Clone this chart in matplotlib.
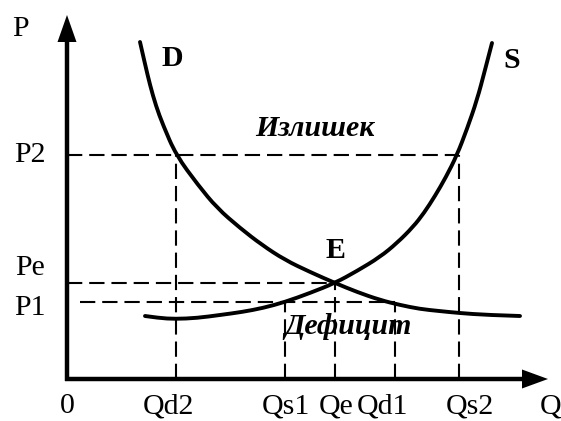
import matplotlib
matplotlib.use("Agg")
import matplotlib.pyplot as plt
from matplotlib.patches import Polygon, PathPatch
from matplotlib.path import Path

plt.rcParams['font.family'] = ['Liberation Serif', 'DejaVu Serif']
plt.rcParams['lines.scale_dashes'] = False

# ---- data (Q, P in chart units, origin at axes corner) ----
q_names = ["Qd2", "Qs1", "Qe", "Qd1", "Qs2"]
q_values = [109, 218, 268, 328, 392]
p_names = ["P2", "Pe", "P1"]
p_values = [224, 96, 77]

demand_q = [73, 78, 83, 89, 96, 109, 131, 150, 173, 195, 218, 243, 268, 290, 313, 333, 353, 372, 392, 420, 453]
demand_p = [337, 315, 294, 273, 254, 224, 194, 171, 151, 134, 119, 107, 96, 87, 79, 74, 70, 68, 66, 64, 63]

supply_q = [78, 92, 108, 130, 153, 175, 196, 218, 243, 268, 290, 313, 330, 346, 357, 368, 379, 390, 400, 410, 418, 425]
supply_p = [63, 61, 60, 61, 64, 67, 71, 77, 86, 96, 108, 122, 136, 152, 166, 183, 202, 224, 250, 279, 309, 336]


def smooth_path(xs, ys):
    """Quadratic-Bezier rendering through the data points (points act as control points)."""
    pts = list(zip(xs, ys))
    verts = [pts[0]]
    codes = [Path.MOVETO]
    for i in range(1, len(pts) - 1):
        mid = ((pts[i][0] + pts[i + 1][0]) / 2, (pts[i][1] + pts[i + 1][1]) / 2)
        if i == len(pts) - 2:
            mid = pts[-1]
        verts += [pts[i], mid]
        codes += [Path.CURVE3, Path.CURVE3]
    return Path(verts, codes)


fig = plt.figure(figsize=(5.61, 4.21), dpi=100)
ax = fig.add_axes([0, 0, 1, 1])
ax.set_xlim(-67, 494)
ax.set_ylim(-42, 379)
ax.axis('off')

dash = dict(color='black', lw=1.5, dashes=(11, 5))
qd2, qs1, qe, qd1, qs2 = q_values
p2, pe, p1 = p_values
# horizontal guides
ax.plot([0, qs2], [p2, p2], **dash)
ax.plot([0, qe], [pe, pe], **dash)
ax.plot([13, qd1], [p1, p1], **dash)
# vertical guides
ax.plot([qd2, qd2], [0, p2], **dash)
ax.plot([qs1, qs1], [0, p1], **dash)
ax.plot([qe, qe], [0, pe], **dash)
ax.plot([qd1, qd1], [0, p1], **dash)
ax.plot([qs2, qs2], [0, p2], **dash)

# curves
for xs, ys in [(demand_q, demand_p), (supply_q, supply_p)]:
    ax.add_patch(PathPatch(smooth_path(xs, ys), facecolor='none', edgecolor='black',
                           lw=2.8, capstyle='round', joinstyle='round'))

# axes with arrows
ax.plot([0, 0], [-2, 340], color='black', lw=3.2, solid_capstyle='butt')
ax.plot([-2, 458], [0, 0], color='black', lw=3.2, solid_capstyle='butt')
ax.add_patch(Polygon([[-9.5, 337], [9.5, 337], [0, 364]], closed=True, color='black', lw=0))
ax.add_patch(Polygon([[455, 9.5], [455, -9.5], [481, 0]], closed=True, color='black', lw=0))

fs = 21.5
# axis titles
ax.text(-47, 350, "P", fontsize=fs, ha='center', va='center')
ax.text(484, -27, "Q", fontsize=fs, ha='center', va='center')
ax.text(0, -27, "0", fontsize=fs, ha='center', va='center')

# tick labels
q_offsets = [-8, 1, 1, -13, 11]
for name, v, off in zip(q_names, q_values, q_offsets):
    ax.text(v + off, -27, name, fontsize=fs, ha='center', va='center')
p_offsets = [0, 15, -6]
for name, v, off in zip(p_names, p_values, p_offsets):
    ax.text(-37, v + off, name, fontsize=fs, ha='center', va='center')

# curve labels
ax.text(105, 320, "D", fontsize=fs, fontweight='bold', ha='center', va='center')
ax.text(445, 319, "S", fontsize=fs, fontweight='bold', ha='center', va='center')
ax.text(268, 128, "E", fontsize=fs, fontweight='bold', ha='center', va='center')
ax.text(248, 251, "Излишек", fontsize=fs, fontweight='bold', style='italic', ha='center', va='center')
ax.text(281, 53, "Дефицит", fontsize=fs, fontweight='bold', style='italic', ha='center', va='center')

fig.savefig("out.png", dpi=100)
